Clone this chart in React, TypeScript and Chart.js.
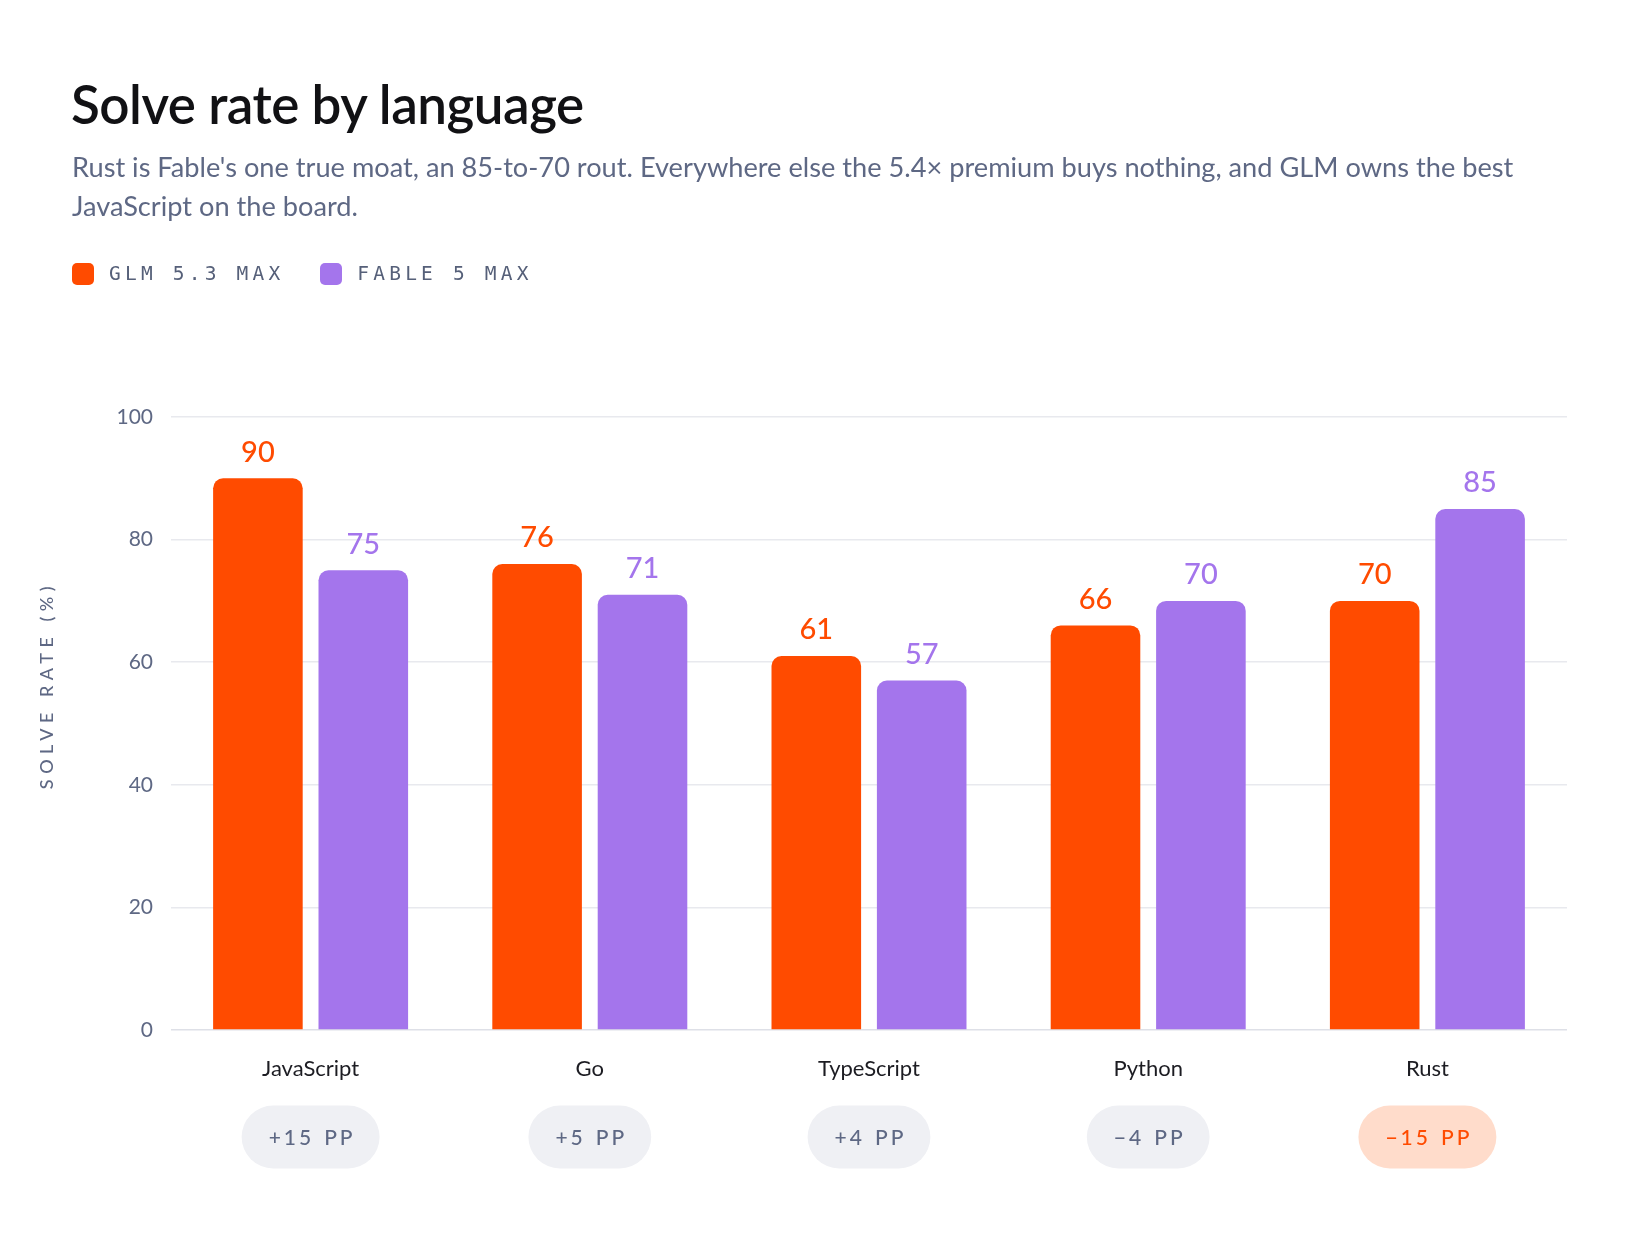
import React, { useEffect, useRef } from "react";
import { Chart, registerables } from "chart.js";

Chart.register(...registerables);

const categories = ["JavaScript", "Go", "TypeScript", "Python", "Rust"];
const glmValues = [90, 76, 61, 66, 70];
const fableValues = [75, 71, 57, 70, 85];
const seriesNames = ["GLM 5.3 MAX", "FABLE 5 MAX"];
const seriesColors = ["#FF4B00", "#A475EC"];
const yTicks = [0, 20, 40, 60, 80, 100];
const deltaLabels = ["+15 PP", "+5 PP", "+4 PP", "\u22124 PP", "\u221215 PP"];
const deltaHighlight = [false, false, false, false, true];

const TEXT_MUTED = "#5E6884";
const FONT = "Lato, 'Open Sans', sans-serif";

const W = 1624;
const H = 1224;

export default function App() {
  const ref = useRef<HTMLCanvasElement | null>(null);

  useEffect(() => {
    if (!ref.current) return;
    const overlay = {
      id: "overlay",
      afterDatasetsDraw(chart: any) {
        const ctx = chart.ctx as CanvasRenderingContext2D;
        // value labels
        chart.data.datasets.forEach((ds: any, di: number) => {
          const meta = chart.getDatasetMeta(di);
          meta.data.forEach((bar: any, i: number) => {
            ctx.save();
            ctx.fillStyle = seriesColors[di];
            ctx.font = `500 29px ${FONT}`;
            ctx.textAlign = "center";
            ctx.textBaseline = "middle";
            ctx.fillText(String(ds.data[i]), bar.x, bar.y - 26);
            ctx.restore();
          });
        });
        // y title
        ctx.save();
        ctx.translate(39, 680);
        ctx.rotate(-Math.PI / 2);
        ctx.fillStyle = TEXT_MUTED;
        ctx.font = `500 18px ${FONT}`;
        (ctx as any).letterSpacing = "5.5px";
        ctx.textAlign = "center";
        ctx.textBaseline = "middle";
        ctx.fillText("SOLVE RATE (%)", 3, 0);
        ctx.restore();
        // pills
        const xs = chart.scales.x;
        categories.forEach((_c, i) => {
          const cx = xs.getPixelForValue(i);
          const cy = 1129;
          const parts = deltaLabels[i].split(" ");
          ctx.save();
          ctx.font = `500 21px ${FONT}`;
          (ctx as any).letterSpacing = "3px";
          const gap = 13;
          const w1 = ctx.measureText(parts[0]).width - 3;
          const w2 = ctx.measureText(parts[1]).width - 3;
          const tw = w1 + gap + w2;
          const w = tw + 54;
          const h = 63;
          ctx.fillStyle = deltaHighlight[i] ? "#FFDCCB" : "#EFF0F4";
          ctx.beginPath();
          (ctx as any).roundRect(cx - w / 2, cy - h / 2, w, h, h / 2);
          ctx.fill();
          ctx.fillStyle = deltaHighlight[i] ? "#FF4B00" : TEXT_MUTED;
          ctx.textAlign = "left";
          ctx.textBaseline = "middle";
          const x0 = cx - tw / 2;
          ctx.fillText(parts[0], x0, cy + 1);
          ctx.fillText(parts[1], x0 + w1 + gap, cy + 1);
          ctx.restore();
        });
      },
    };

    const chart = new Chart(ref.current, {
      type: "bar",
      data: {
        labels: categories,
        datasets: [
          {
            label: seriesNames[0],
            data: glmValues,
            backgroundColor: seriesColors[0],
            borderRadius: 10,
            borderSkipped: "start",
            categoryPercentage: 0.755,
            barPercentage: 0.85,
          },
          {
            label: seriesNames[1],
            data: fableValues,
            backgroundColor: seriesColors[1],
            borderRadius: 10,
            borderSkipped: "start",
            categoryPercentage: 0.755,
            barPercentage: 0.85,
          },
        ],
      },
      options: {
        animation: false,
        responsive: false,
        devicePixelRatio: 1,
        layout: { padding: { top: 409, right: 65, bottom: 0, left: 0 } },
        plugins: {
          legend: { display: false },
          tooltip: { enabled: false },
        },
        scales: {
          x: {
            grid: { display: false, drawTicks: false },
            border: { display: false },
            ticks: {
              color: "#1C1C22",
              font: { family: FONT, size: 22 },
              padding: 26,
            },
            afterFit(scale: any) {
              scale.height = 202;
            },
          },
          y: {
            min: 0,
            max: 100,
            grid: {
              drawTicks: false,
              color: (c: any) => (c.tick && c.tick.value === 0 ? "#DEE0E7" : "#E8E9EE"),
              lineWidth: 1.5,
            },
            border: { display: false },
            ticks: {
              color: TEXT_MUTED,
              font: { family: FONT, size: 21 },
              padding: 18,
            },
            afterBuildTicks(scale: any) {
              scale.ticks = yTicks.map((v) => ({ value: v }));
            },
            afterFit(scale: any) {
              scale.width = 163;
            },
          },
        },
      },
      plugins: [overlay],
    });
    return () => chart.destroy();
  }, []);

  return (
    <div
      style={{
        position: "relative",
        width: W,
        height: H,
        background: "#fff",
        fontFamily: FONT,
      }}
    >
      <canvas
        ref={ref}
        width={W}
        height={H}
        style={{ position: "absolute", left: 0, top: 0, width: W, height: H }}
      />
      <div
        style={{
          position: "absolute",
          left: 63,
          top: 69,
          fontSize: 53,
          lineHeight: "54px",
          fontWeight: 600,
          color: "#111114",
          letterSpacing: "-0.5px",
        }}
      >
        Solve rate by language
      </div>
      <div
        style={{
          position: "absolute",
          left: 64,
          top: 139,
          width: 1540,
          fontSize: 27.2,
          lineHeight: "39px",
          color: TEXT_MUTED,
          whiteSpace: "nowrap",
        }}
      >
        Rust is Fable's one true moat, an 85-to-70 rout. Everywhere else the 5.4× premium buys nothing, and GLM owns the best
        <br />
        JavaScript on the board.
      </div>
      <div
        style={{
          position: "absolute",
          left: 64,
          top: 254,
          display: "flex",
          alignItems: "center",
        }}
      >
        {seriesNames.map((n, i) => (
          <div key={n} style={{ display: "flex", alignItems: "center", marginRight: 36 }}>
            <div
              style={{
                width: 22,
                height: 22,
                borderRadius: 5,
                background: seriesColors[i],
                marginRight: 15,
              }}
            />
            <span
              style={{
                fontFamily: "'DejaVu Sans Mono', monospace",
                fontSize: 19.5,
                letterSpacing: "4.2px",
                color: "#566079",
                fontWeight: 400,
              }}
            >
              {n}
            </span>
          </div>
        ))}
      </div>
    </div>
  );
}
